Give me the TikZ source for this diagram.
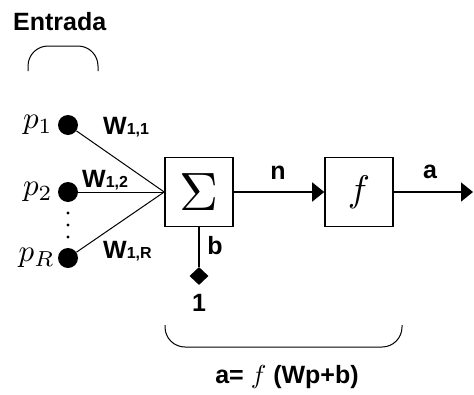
\documentclass[tikz,border=0pt]{standalone}
\usepackage{fontspec}
\setmainfont{Liberation Sans}
\usetikzlibrary{shapes.geometric, arrows.meta, positioning}

\newcommand{\sub}[1]{{\fontsize{16}{16}\selectfont #1}}
\newcommand{\bigmath}[2]{{\fontsize{10}{10}\selectfont\scalebox{#1}{$#2$}}}

\begin{document}
\begin{tikzpicture}[
    x=1pt, y=-1pt,
    every node/.style={font=\fontsize{25}{25}\selectfont\bfseries},
    block/.style={rectangle, draw, line width=1.6pt, minimum width=68pt,
                  minimum height=69pt, inner sep=0pt},
    inputdot/.style={circle, fill, minimum size=20pt, inner sep=0pt},
    biasdot/.style={diamond, fill, minimum width=19pt, minimum height=18pt,
                    inner sep=0pt},
    wire/.style={line width=1pt},
    signal/.style={line width=1.8pt},
    arrow/.style={-{Triangle[length=12pt, width=19pt]}, line width=1.8pt},
    weight/.style={anchor=west, inner sep=0pt},
    inlabel/.style={inner sep=0pt},
    bracket/.style={line width=1pt, rounded corners=20pt}
]
\useasboundingbox (0,0) rectangle (474,394);

% inputs
\node[anchor=west, inner sep=0pt] (entrada) at (13,22) {Entrada};
\node[inputdot] (p1) at (68,125) {};
\node[inputdot] (p2) at (68,192) {};
\node[inputdot] (pR) at (68,258) {};
\node[inlabel, left=5pt of p1] (lp1) {\bigmath{3.1}{p_1}};
\node[inlabel, left=5pt of p2] (lp2) {\bigmath{3.1}{p_2}};
\node[inlabel, left=3pt of pR] (lpR) {\bigmath{3.1}{p_R}};
\foreach \y in {213,225,237}
    \fill (68,\y) circle (1.6pt);

% neuron
\node[block] (sum) at (199,192) {\bigmath{5.4}{\Sigma}};
\node[block] (act) at (359,192) {\bigmath{3.7}{f}};
\node[biasdot] (bias) at (199,276) {};
\coordinate (out) at (473,192);

\draw[wire] (p1) -- (sum.west);
\draw[wire] (p2) -- (sum.west);
\draw[wire] (pR) -- (sum.west);
\draw[signal] (sum) -- (bias);
\draw[arrow] (sum) -- (act);
\draw[arrow] (act) -- (out);

\node[weight] (w11) at (103,127) {W\sub{1,1}};
\node[weight] (w12) at (82,180) {W\sub{1,2}};
\node[weight] (w1R) at (103,251) {W\sub{1,R}};
\node (n) at (278,173) {n};
\node (a) at (430,172) {a};
\node (b) at (215,246) {b};
\node[below=6pt of bias] (one) {1};

% brackets
\draw[bracket] (28,71) -- (28,46) -- (98,46) -- (98,71);
\draw[bracket] (165,325) -- (165,347) -- (402,347) -- (402,325);
\node (eq) at (287,377) {a= \bigmath{2.6}{f} (Wp+b)};

\end{tikzpicture}
\end{document}
